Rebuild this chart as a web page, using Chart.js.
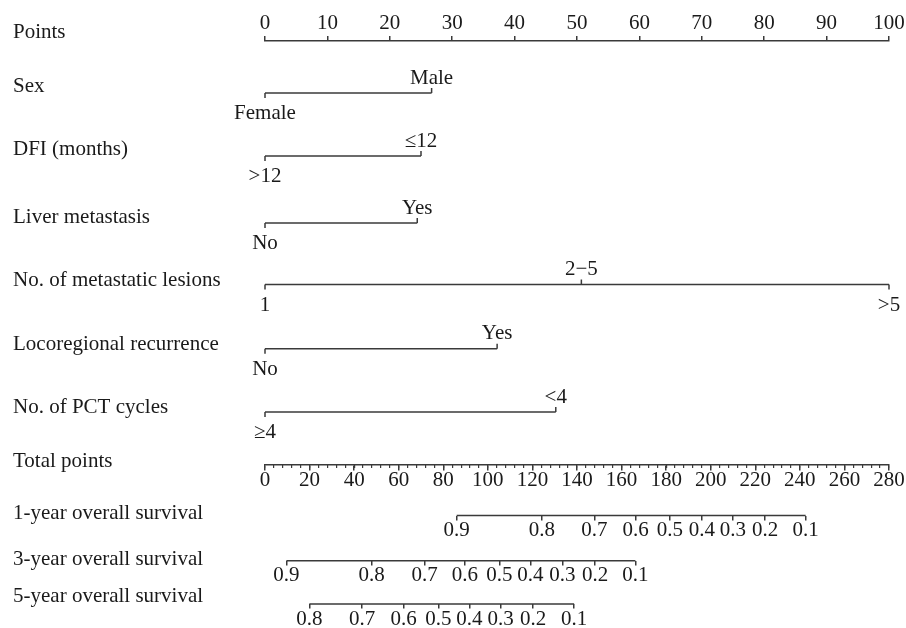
<!DOCTYPE html>
<html><head><meta charset="utf-8">
<script src="https://cdn.jsdelivr.net/npm/chart.js@4.4.1/dist/chart.umd.min.js"></script>
<style>html,body{margin:0;padding:0;background:#fff}#c{display:block}</style>
</head><body>
<canvas id="c" width="906" height="628"></canvas>
<script>
// ---------------- data ----------------
const ROW_LABELS = ['Points','Sex','DFI (months)','Liver metastasis','No. of metastatic lesions',
  'Locoregional recurrence','No. of PCT cycles','Total points',
  '1-year overall survival','3-year overall survival','5-year overall survival'];

const POINTS_TICKS = [0,10,20,30,40,50,60,70,80,90,100];

const SEX_LEVELS = ['Female','Male'];
const SEX_POINTS = [0, 26.7];
const DFI_LEVELS = ['>12','≤12'];
const DFI_POINTS = [0, 25.0];
const LIVER_LEVELS = ['No','Yes'];
const LIVER_POINTS = [0, 24.4];
const LESION_LEVELS = ['1','2−5','>5'];
const LESION_POINTS = [0, 50.7, 100];
const LOCO_LEVELS = ['No','Yes'];
const LOCO_POINTS = [0, 37.2];
const PCT_LEVELS = ['≥4','<4'];
const PCT_POINTS = [0, 46.6];

const TOTAL_TICKS = [0,20,40,60,80,100,120,140,160,180,200,220,240,260,280];

const OS1_LABELS = ['0.9','0.8','0.7','0.6','0.5','0.4','0.3','0.2','0.1'];
const OS1_TOTAL  = [86.0,124.2,147.8,166.3,181.7,196.0,209.9,224.4,242.6];
const OS3_LABELS = ['0.9','0.8','0.7','0.6','0.5','0.4','0.3','0.2','0.1'];
const OS3_TOTAL  = [9.6,47.9,71.6,89.7,105.2,119.1,133.4,148.1,166.2];
const OS5_LABELS = ['0.8','0.7','0.6','0.5','0.4','0.3','0.2','0.1'];
const OS5_TOTAL  = [19.9,43.6,62.2,77.8,91.7,105.7,120.3,138.7];

// ---------------- layout / style ----------------
const ROW_Y = [0,52,115,182,243.5,307.7,371,424,474.5,519.7,563];   // row positions on the y scale
const LABEL_DY = [-3,-1.5,-1,0,1.5,1.3,1,2,3.5,4.3,-2];
const LINE = '#3a3a3a', TEXT = '#1a1a1a';
const FAM = '"Liberation Serif", "Times New Roman", serif';
const FSIZE = 21;
const LW = 1.5;

const VARS = [
  {row:1, levels:SEX_LEVELS, pts:SEX_POINTS},
  {row:2, levels:DFI_LEVELS, pts:DFI_POINTS},
  {row:3, levels:LIVER_LEVELS, pts:LIVER_POINTS},
  {row:4, levels:LESION_LEVELS, pts:LESION_POINTS},
  {row:5, levels:LOCO_LEVELS, pts:LOCO_POINTS},
  {row:6, levels:PCT_LEVELS, pts:PCT_POINTS}
];
const SURV = [
  {row:8, id:'xs1', labels:OS1_LABELS, pos:OS1_TOTAL},
  {row:9, id:'xs3', labels:OS3_LABELS, pos:OS3_TOTAL},
  {row:10, id:'xs5', labels:OS5_LABELS, pos:OS5_TOTAL}
];

function seg(x0, x1, y, axis) {
  return {data:[{x:x0,y:y},{x:x1,y:y}], showLine:true, borderColor:LINE, borderWidth:LW,
          pointRadius:0, clip:false, xAxisID:axis, yAxisID:'y'};
}
const datasets = [];
VARS.forEach(v => datasets.push(seg(Math.min(...v.pts), Math.max(...v.pts), ROW_Y[v.row], 'x')));
SURV.forEach(s => datasets.push(seg(s.pos[0], s.pos[s.pos.length-1], ROW_Y[s.row], 'xt')));

const tickFont = {family:FAM, size:FSIZE};
function survAxis(s) {
  return {
    axis:'x', type:'linear', position:{y:ROW_Y[s.row]}, min:0, max:280,
    afterBuildTicks: a => { a.ticks = s.pos.map(v => ({value:v})); },
    ticks:{autoSkip:false, maxRotation:0, minRotation:0, padding:-2, color:TEXT, font:tickFont,
           callback:(v,i) => s.labels[i]},
    grid:{drawOnChartArea:false, drawTicks:true, tickLength:4.5, color:LINE, lineWidth:LW},
    border:{display:false}
  };
}

const nomo = {
  id:'nomo',
  afterDraw(chart) {
    const {ctx} = chart;
    const x = chart.scales.x, y = chart.scales.y;
    ctx.save();
    ctx.font = FSIZE + 'px ' + FAM;
    ctx.fillStyle = TEXT;
    ctx.strokeStyle = LINE;
    ctx.lineWidth = LW;
    ctx.textBaseline = 'alphabetic';
    ROW_LABELS.forEach((t,i) => {
      ctx.textAlign = 'left';
      ctx.fillText(t, 13, y.getPixelForValue(ROW_Y[i]) + LABEL_DY[i]);
    });
    VARS.forEach(v => {
      const py = y.getPixelForValue(ROW_Y[v.row]);
      v.pts.forEach((p,j) => {
        const px = x.getPixelForValue(p);
        const up = (j % 2 === 1);
        ctx.beginPath();
        ctx.moveTo(px, py);
        ctx.lineTo(px, up ? py - 5 : py + 5);
        ctx.stroke();
        ctx.textAlign = 'center';
        ctx.fillText(v.levels[j], px, up ? py - 9.5 : py + 26);
      });
    });
    ctx.restore();
  }
};

const scales = {
  x:{type:'linear', position:'top', min:0, max:100,
     afterBuildTicks: a => { a.ticks = POINTS_TICKS.map(v => ({value:v})); },
     ticks:{autoSkip:false, maxRotation:0, minRotation:0, padding:0, color:TEXT, font:tickFont},
     grid:{drawOnChartArea:false, drawTicks:true, tickLength:5, color:LINE, lineWidth:LW},
     border:{display:true, color:LINE, width:LW}},
  y:{type:'linear', display:false, reverse:true, min:0, max:563},
  xtm:{axis:'x', type:'linear', position:{y:ROW_Y[7]}, min:0, max:280,
     ticks:{display:false, stepSize:4, maxTicksLimit:1000, autoSkip:false},
     grid:{drawOnChartArea:false, drawTicks:true, tickLength:3, color:LINE, lineWidth:1.2},
     border:{display:false}},
  xt:{axis:'x', type:'linear', position:{y:ROW_Y[7]}, min:0, max:280,
     afterBuildTicks: a => { a.ticks = TOTAL_TICKS.map(v => ({value:v})); },
     ticks:{autoSkip:false, maxRotation:0, minRotation:0, padding:-2.5, color:TEXT, font:tickFont},
     grid:{drawOnChartArea:false, drawTicks:true, tickLength:5, color:LINE, lineWidth:LW},
     border:{display:true, color:LINE, width:LW}}
};
SURV.forEach(s => { scales[s.id] = survAxis(s); });

new Chart(document.getElementById('c'), {
  type:'scatter',
  data:{datasets},
  options:{
    responsive:false, animation:false, events:[], devicePixelRatio:1,
    layout:{padding:{left:265, right:17, top:10.8, bottom:24}},
    plugins:{legend:{display:false}, tooltip:{enabled:false}},
    scales
  },
  plugins:[nomo]
});
</script>
</body></html>
